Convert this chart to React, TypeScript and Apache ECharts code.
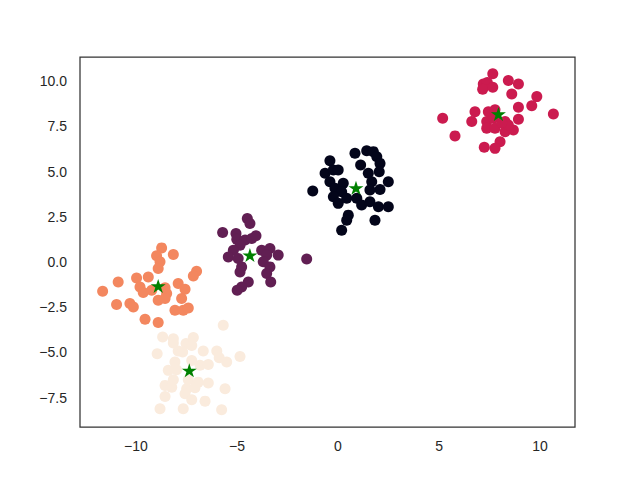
import React, { useEffect, useRef } from "react";
import * as echarts from "echarts";

// Cluster points (x, y)
const clusterDark: [number, number][] = [
  [-1.25, 3.92], [-0.40, 5.60], [-0.64, 4.90], [-0.23, 5.08], [0.01, 5.08], [-0.40, 4.44],
  [-0.15, 4.07], [0.26, 4.35], [0.18, 3.88], [-0.23, 3.60], [0.01, 3.24], [0.43, 3.52],
  [0.84, 6.01], [1.12, 5.36], [1.42, 6.15], [1.75, 6.10], [1.92, 5.82], [2.08, 5.45],
  [2.04, 4.99], [1.50, 4.90], [1.67, 4.44], [2.49, 4.44], [2.08, 4.01], [1.58, 3.98],
  [0.93, 3.52], [1.17, 3.15], [1.58, 3.33], [2.00, 3.05], [2.49, 3.05], [0.51, 2.59],
  [0.43, 2.31], [1.83, 2.31], [0.18, 1.76],
];
const clusterPurple: [number, number][] = [
  [-4.49, 2.41], [-4.36, 2.13], [-5.71, 1.63], [-5.05, 1.58], [-5.01, 1.26], [-4.60, 1.21],
  [-4.27, 1.30], [-4.06, 1.45], [-4.85, 0.93], [-5.18, 0.65], [-5.43, 0.28], [-4.94, 0.19],
  [-4.77, -0.27], [-4.85, -0.55], [-3.78, 0.65], [-3.37, 0.75], [-3.53, 0.38], [-2.96, 0.38],
  [-3.70, 0.01], [-3.37, -0.27], [-3.53, -0.64], [-3.33, -1.10], [-4.44, -1.10], [-4.77, -1.38],
  [-4.99, -1.56], [-1.55, 0.16],
];
const clusterCrimson: [number, number][] = [
  [7.66, 10.40], [7.19, 9.84], [7.39, 9.92], [7.16, 9.55], [7.66, 9.66], [8.43, 10.03],
  [8.93, 9.84], [8.60, 9.29], [9.84, 9.14], [9.59, 8.63], [8.93, 8.55], [5.18, 7.95],
  [6.78, 8.31], [6.62, 7.76], [7.44, 8.31], [7.77, 8.41], [7.36, 7.76], [7.69, 7.95],
  [8.27, 7.76], [8.93, 7.89], [7.36, 7.39], [7.77, 7.39], [8.27, 7.20], [8.68, 7.30],
  [8.43, 7.57], [10.66, 8.18], [5.79, 6.97], [8.02, 6.65], [7.77, 6.28], [7.24, 6.34],
  [8.10, 7.70],
];
const clusterOrange: [number, number][] = [
  [-8.73, 0.78], [-8.15, 0.42], [-8.98, 0.34], [-8.81, 0.01], [-8.90, -0.36], [-7.00, -0.51],
  [-7.16, -0.77], [-9.97, -0.88], [-9.39, -0.83], [-10.88, -1.10], [-11.65, -1.62], [-9.80, -1.38],
  [-9.64, -1.69], [-9.22, -1.56], [-8.56, -1.43], [-8.48, -1.74], [-7.91, -1.19], [-7.57, -1.51],
  [-8.90, -2.12], [-8.56, -2.02], [-7.74, -2.02], [-10.96, -2.35], [-10.30, -2.30], [-10.13, -2.49],
  [-8.07, -2.67], [-7.66, -2.67], [-7.41, -2.54], [-9.55, -3.17], [-8.90, -3.35],
];
const clusterCream: [number, number][] = [
  [-5.68, -3.50], [-8.68, -4.15], [-8.15, -4.24], [-8.15, -4.48], [-7.16, -4.18], [-7.52, -4.51],
  [-7.24, -4.61], [-8.95, -5.07], [-7.91, -4.92], [-7.69, -4.98], [-6.67, -4.92], [-6.00, -4.92],
  [-5.88, -5.29], [-5.51, -5.53], [-8.07, -5.53], [-7.24, -5.44], [-6.83, -5.71], [-6.42, -5.66],
  [-8.40, -5.99], [-7.99, -5.95], [-8.15, -6.51], [-8.56, -6.82], [-8.23, -6.92], [-7.41, -6.51],
  [-6.92, -6.64], [-6.42, -6.69], [-7.49, -7.00], [-7.08, -6.95], [-5.59, -7.00], [-7.57, -7.28],
  [-8.56, -7.43], [-7.24, -7.61], [-6.58, -7.69], [-8.81, -8.11], [-7.66, -8.11], [-5.76, -8.17],
  [-4.85, -5.22],
];
const centroids: [number, number][] = [
  [0.89, 4.10], [7.94, 8.18], [-4.36, 0.38], [-8.90, -1.32], [-7.36, -5.99],
];

const xTicks = [-10, -5, 0, 5, 10];
const yTicks = [-7.5, -5.0, -2.5, 0.0, 2.5, 5.0, 7.5, 10.0];

const clusters = [
  { data: clusterDark, color: "#03051a" },
  { data: clusterPurple, color: "#611f53" },
  { data: clusterCrimson, color: "#cb1b4f" },
  { data: clusterOrange, color: "#f3875f" },
  { data: clusterCream, color: "#faebdd" },
];

const STAR =
  "path://M0,-10 L2.245,-3.09 L9.51,-3.09 L3.633,1.18 L5.88,8.09 L0,3.82 L-5.88,8.09 L-3.633,1.18 L-9.51,-3.09 L-2.245,-3.09 Z";

const minus = (s: string) => s.replace("-", "\u2212");

export default function App() {
  const ref = useRef<HTMLDivElement>(null);
  useEffect(() => {
    if (!ref.current) return;
    const chart = echarts.init(ref.current, undefined, { renderer: "svg" });
    const labelStyle = {
      color: "#262626",
      fontFamily: "Liberation Sans, Arial, sans-serif",
      fontSize: 14,
    };
    chart.setOption({
      animation: false,
      backgroundColor: "#ffffff",
      grid: {
        left: 80,
        top: 57,
        width: 495,
        height: 370,
        show: true,
        borderColor: "#333333",
        borderWidth: 1.25,
        backgroundColor: "transparent",
      },
      xAxis: {
        type: "value",
        min: -12.77,
        max: 11.73,
        splitLine: { show: false },
        axisLine: { show: false },
        axisTick: { show: false },
        axisLabel: {
          ...labelStyle,
          margin: 12,
          customValues: xTicks,
          formatter: (v: number) => minus(String(v)),
        },
      },
      yAxis: {
        type: "value",
        min: -9.12,
        max: 11.33,
        splitLine: { show: false },
        axisLine: { show: false },
        axisTick: { show: false },
        axisLabel: {
          ...labelStyle,
          margin: 13,
          customValues: yTicks,
          formatter: (v: number) => minus(v.toFixed(1)),
        },
      },
      series: [
        ...clusters.map((c) => ({
          type: "scatter",
          data: c.data,
          symbol: "circle",
          symbolSize: 11,
          itemStyle: { color: c.color, opacity: 1 },
          emphasis: { disabled: true },
        })),
        {
          type: "scatter",
          data: centroids,
          symbol: STAR,
          symbolSize: [15, 14],
          itemStyle: { color: "#008000", opacity: 1 },
          z: 10,
          emphasis: { disabled: true },
        },
      ],
    });
    return () => chart.dispose();
  }, []);
  return <div ref={ref} style={{ width: 640, height: 480, margin: -8 }} />;
}
